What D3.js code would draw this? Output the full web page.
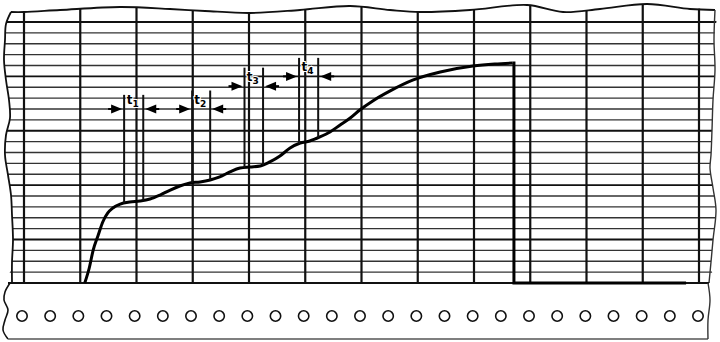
<!DOCTYPE html>
<html><head><meta charset="utf-8">
<script src="https://cdn.jsdelivr.net/npm/d3@7"></script>
<style>html,body{margin:0;padding:0;background:#fff}svg{display:block}</style>
</head><body><svg id="c" width="720" height="342"></svg>
<script>
// ---- data ----
const timeTicks = d3.range(0, 121, 10);      // vertical chart lines
const levelTicks = d3.range(0, 25, 1);       // horizontal chart lines
const curveTime  = [10.8, 11.6, 12.3, 13.2, 14.0, 14.9, 15.8, 17.1, 18.8, 20.6, 22.4, 24.2, 26.0, 27.7, 29.5, 31.3, 33.1, 34.8, 36.6, 38.4, 40.2, 42.0, 43.7, 45.5, 47.3, 49.1, 50.8, 52.6, 54.4, 56.2, 58.0, 59.7, 62.0, 65.1, 69.2, 74.0, 79.8, 83.7, 86.9];
const curveLevel = [0, 1.38, 3.03, 4.41, 5.61, 6.44, 6.90, 7.26, 7.45, 7.54, 7.72, 8.09, 8.55, 8.92, 9.20, 9.29, 9.47, 9.75, 10.21, 10.57, 10.67, 10.76, 11.13, 11.68, 12.41, 12.87, 13.06, 13.43, 13.89, 14.53, 15.17, 15.91, 16.74, 17.66, 18.67, 19.40, 19.95, 20.14, 20.23];
const dropTime = 87.1;
const endTime = 117.7;
const markerLabels = ["1", "2", "3", "4"];
const markerStart  = [17.8, 29.9, 39.2, 48.9];
const markerEnd    = [21.2, 33.1, 42.5, 52.3];
const markerTop    = [17.3, 17.7, 19.8, 20.7];
const markerArrow  = [16.0, 16.0, 18.1, 19.0];
const holeCount = 25;

// ---- scales ----
const svg = d3.select("#c");
const x = d3.scaleLinear().domain([0, 120]).range([24, 699]);
const y = d3.scaleLinear().domain([0, 24]).range([283, 22]);
const levelAt = d3.scaleLinear().domain(curveTime).range(curveLevel);
const holeX = d3.scaleLinear().domain([0, holeCount - 1]).range([22, 698]);

svg.append("rect").attr("width", 720).attr("height", 342).attr("fill", "#fff");

// paper outline (torn edges)
const topEdge = [[11,12],[24,12],[60,10],[120,7],[170,9],[205,11],[250,13],[300,10],[350,6],[390,10],[420,12],[470,10],[527,5],[563,12],[600,9],[647,4],[690,9],[715,10]];
const rightEdge = [[715,10],[714,40],[715,70],[713,100],[712,130],[711,155],[710,168],[713,188],[716,210],[713,240],[711,262],[709,283]];
const leftEdge = [[12,283],[12,262],[13,240],[12,215],[11,195],[8,175],[5,155],[6,135],[10,118],[9,100],[6,80],[4,60],[5,40],[6,24],[11,12]];
const smooth = d3.line().curve(d3.curveCatmullRom);
const paperPts = topEdge.concat(rightEdge.slice(1)).concat(leftEdge);

svg.append("clipPath").attr("id", "paper").append("path")
  .attr("d", d3.line().curve(d3.curveCatmullRomClosed)(paperPts));

const g = svg.append("g").attr("clip-path", "url(#paper)");
g.selectAll("line.h").data(levelTicks).join("line")
  .attr("x1", 0).attr("x2", 720)
  .attr("y1", d => y(d)).attr("y2", d => y(d))
  .attr("stroke", (d, i) => i % 5 === 4 ? "#111" : "#333")
  .attr("stroke-width", (d, i) => i % 5 === 4 ? 1.8 : 1.3);
g.selectAll("line.v").data(timeTicks).join("line")
  .attr("x1", d => x(d)).attr("x2", d => x(d))
  .attr("y1", 0).attr("y2", 283)
  .attr("stroke", "#111").attr("stroke-width", 2.2);

// edges
svg.append("path").attr("d", smooth(topEdge)).attr("fill", "none").attr("stroke", "#111").attr("stroke-width", 1.8);
svg.append("path").attr("d", smooth(rightEdge)).attr("fill", "none").attr("stroke", "#333").attr("stroke-width", 1.4);
svg.append("path").attr("d", smooth(leftEdge)).attr("fill", "none").attr("stroke", "#111").attr("stroke-width", 1.8);
svg.append("line").attr("x1", 8).attr("x2", 709).attr("y1", 283).attr("y2", 283).attr("stroke", "#111").attr("stroke-width", 2.2);

// strip with holes
const stripLeft = [[10,283],[5,292],[4,300],[8,310],[5,320],[3,330],[8,339]];
svg.append("path").attr("d", smooth(stripLeft)).attr("fill", "none").attr("stroke", "#111").attr("stroke-width", 1.6);
svg.append("line").attr("x1", 8).attr("x2", 708).attr("y1", 339).attr("y2", 339).attr("stroke", "#555").attr("stroke-width", 1.6);
svg.append("path").attr("d", smooth([[708,283],[710,300],[708,320],[708,339]])).attr("fill", "none").attr("stroke", "#333").attr("stroke-width", 1.4);
svg.selectAll("circle.hole").data(d3.range(holeCount)).join("circle")
  .attr("cx", d => holeX(d)).attr("cy", 316).attr("r", 5.2)
  .attr("fill", "#fff").attr("stroke", "#111").attr("stroke-width", 1.6);

// recorded curve
const pts = curveTime.map((t, i) => [x(t), y(curveLevel[i])]);
svg.append("path").attr("d", d3.line().curve(d3.curveMonotoneX)(pts))
  .attr("fill", "none").attr("stroke", "#000").attr("stroke-width", 3);
const lastLevel = curveLevel[curveLevel.length - 1];
svg.append("path")
  .attr("d", d3.line()([[x(curveTime[curveTime.length - 1]), y(lastLevel)], [x(dropTime), y(lastLevel)], [x(dropTime), y(0)], [x(endTime), y(0)]]))
  .attr("fill", "none").attr("stroke", "#000").attr("stroke-width", 3);

// markers t1..t4
markerLabels.forEach((lab, i) => {
  const a = x(markerStart[i]), b = x(markerEnd[i]), ay = y(markerArrow[i]);
  [markerStart[i], markerEnd[i]].forEach(t => {
    svg.append("line").attr("x1", x(t)).attr("x2", x(t))
      .attr("y1", y(markerTop[i])).attr("y2", y(levelAt(t)))
      .attr("stroke", "#111").attr("stroke-width", 2);
  });
  const tipL = a - 2, tipR = b + 2;
  svg.append("path").attr("d", `M${tipL},${ay}L${tipL - 11},${ay - 4.5}L${tipL - 11},${ay + 4.5}Z`).attr("fill", "#000");
  svg.append("line").attr("x1", tipL - 14).attr("x2", tipL - 8).attr("y1", ay).attr("y2", ay).attr("stroke", "#000").attr("stroke-width", 2);
  svg.append("path").attr("d", `M${tipR},${ay}L${tipR + 11},${ay - 4.5}L${tipR + 11},${ay + 4.5}Z`).attr("fill", "#000");
  svg.append("line").attr("x1", tipR + 8).attr("x2", tipR + 14).attr("y1", ay).attr("y2", ay).attr("stroke", "#000").attr("stroke-width", 2);
  const txt = svg.append("text").attr("x", (a + b) / 2 - 1).attr("y", ay - 5)
    .attr("text-anchor", "middle").attr("font-family", "DejaVu Sans, sans-serif")
    .attr("font-weight", "bold").attr("font-size", 12).attr("fill", "#000")
    .style("paint-order", "stroke").attr("stroke", "#fff").attr("stroke-width", 2);
  txt.append("tspan").text("t");
  txt.append("tspan").attr("dy", 3).attr("font-size", 9).text(lab);
});
</script></body></html>
